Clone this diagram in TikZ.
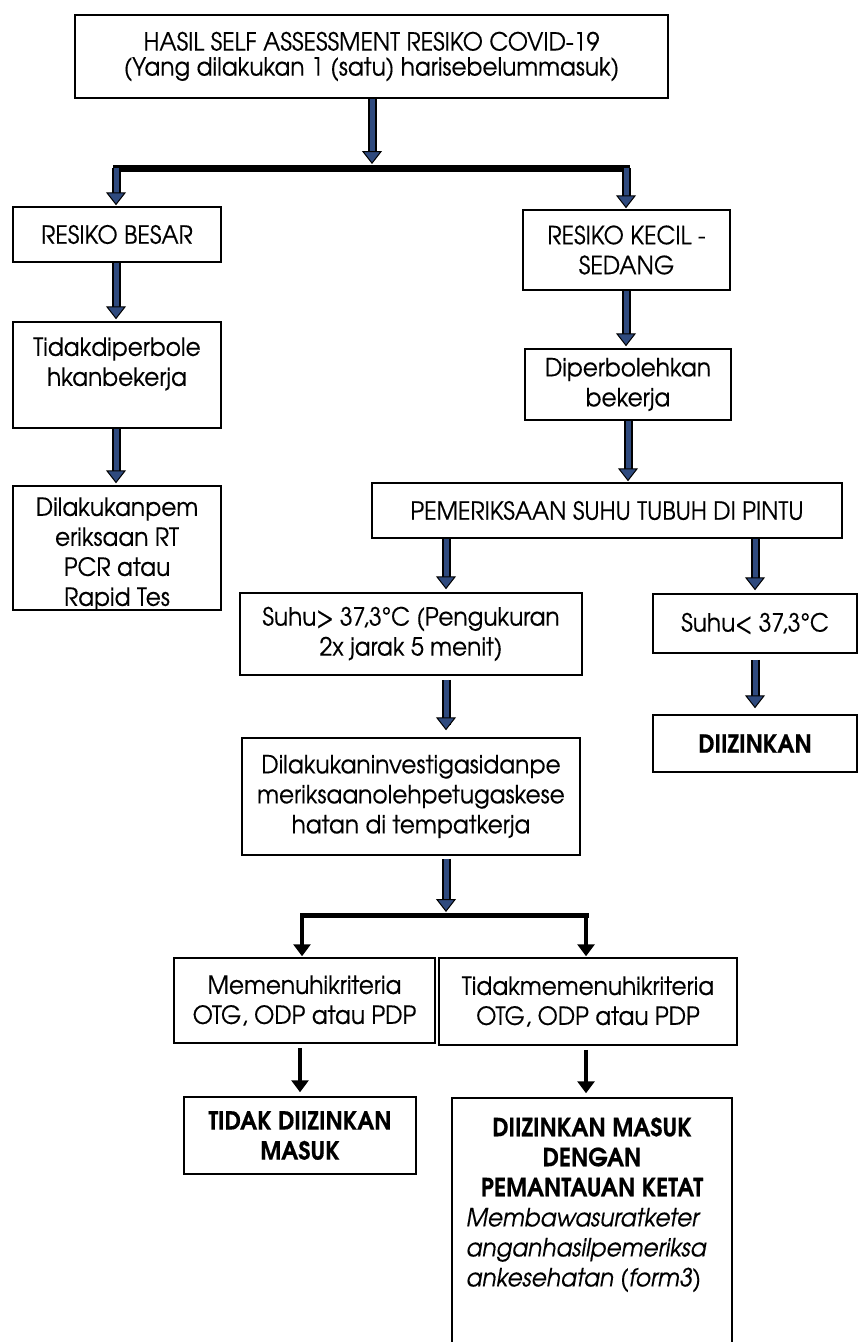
\documentclass[tikz,border=0pt]{standalone}
\usepackage{fontspec}
\setmainfont{TeX Gyre Adventor}[FakeStretch=0.93,FakeBold=0.4]
\usetikzlibrary{arrows.meta}
\definecolor{arrowblue}{HTML}{2F4A7E}
\newcommand\mainsz{\fontsize{25}{30}\selectfont}
\begin{document}
\begin{tikzpicture}[x=1pt,y=-1pt,
  box/.style={draw=black,line width=1.5pt,inner sep=0pt,align=center,font=\mainsz},
  txt/.style={inner sep=0pt,align=center,font=\mainsz},
  bluearrow/.style={draw=arrowblue,line width=5pt,
    -{Triangle[length=13pt,width=20pt,line width=1pt,color=black,fill=arrowblue]},
    preaction={draw=black,line width=9pt,-,shorten >=12pt}},
  blackarrow/.style={draw=black,line width=4pt,-{Triangle[length=12pt,width=17pt]}},
  barline/.style={draw=black,line cap=rect}]
\useasboundingbox (0,0) rectangle (858,1342);
\fill[white] (0,0) rectangle (858,1342);

% boxes
\node[box,minimum width=593pt,minimum height=83pt,font=\fontsize{25}{25}\selectfont] (top) at (371.5,56.5)
  {HASIL SELF ASSESSMENT RESIKO COVID-19\\(Yang dilakukan 1 (satu) harisebelummasuk)};
\node[box,minimum width=208pt,minimum height=55pt] (rb) at (117,234.5) {RESIKO BESAR};
\node[box,minimum width=207pt,minimum height=80pt] (rk) at (626.5,250) {RESIKO KECIL -\\SEDANG};
\node[box,minimum width=208pt,minimum height=106pt] (tdb) at (117,375) {};
\node[txt] (tdbt) at (117,364) {Tidakdiperbole\\hkanbekerja};
\node[box,minimum width=208pt,minimum height=124pt] (dp) at (117,548) {};
\node[txt] (dpt) at (117,554) {Dilakukanpem\\eriksaan RT\\PCR atau\\Rapid Tes};
\node[box,minimum width=206pt,minimum height=71pt] (dib) at (628,384.5) {Diperbolehkan\\bekerja};
\node[box,minimum width=470pt,minimum height=55pt] (pem) at (607,510.5) {PEMERIKSAAN SUHU TUBUH DI PINTU};
\node[box,minimum width=342pt,minimum height=82pt] (sg) at (411,634) {Suhu> 37,3°C (Pengukuran\\2x jarak 5 menit)};
\node[box,minimum width=204pt,minimum height=59pt] (sl) at (755,623.5) {Suhu< 37,3°C};
\node[box,minimum width=204pt,minimum height=57pt,font=\mainsz\bfseries] (dz) at (755,743.5) {DIIZINKAN};
\node[box,minimum width=338pt,minimum height=117pt] (inv) at (411,796.5)
  {Dilakukaninvestigasidanpe\\meriksaanolehpetugaskese\\hatan di tempatkerja};
\node[box,minimum width=261pt,minimum height=85pt] (mem) at (304.5,1000.5) {Memenuhikriteria\\OTG, ODP atau PDP};
\node[box,minimum width=298pt,minimum height=87pt] (tmem) at (588,1001.5) {Tidakmemenuhikriteria\\OTG, ODP atau PDP};
\node[box,minimum width=232pt,minimum height=77pt,font=\mainsz\bfseries] (tdm) at (300,1135.5) {TIDAK DIIZINKAN\\MASUK};
\node[box,minimum width=280pt,minimum height=256pt] (dzm) at (592,1226) {};
\node[txt,font=\mainsz\bfseries] (dzmb) at (592,1157) {DIIZINKAN MASUK\\DENGAN\\PEMANTAUAN KETAT};
\node[txt,font=\mainsz\itshape,align=left,anchor=west] (dzmi) at (466,1250)
  {Membawasuratketer\\anganhasilpemeriksa\\ankesehatan (form3)};

% junction coordinates
\coordinate (j1) at (372,164);
\coordinate (b1l) at (116,168);
\coordinate (b1r) at (626,168);
\coordinate (c1) at (446,0);
\coordinate (j2) at (446,912);
\coordinate (b2l) at (302,915);
\coordinate (b2r) at (586,915);

% bars
\draw[barline,line width=7pt] (b1l) -- (b1r);
\draw[barline,line width=5pt] (b2l) -- (b2r);

% connectors
\draw[bluearrow] (top.south -| j1) -- (j1);
\draw[bluearrow,shorten >=1pt] (b1l) -- (rb.north -| b1l);
\draw[bluearrow,shorten >=1pt] (b1r) -- (rk.north -| b1r);
\draw[bluearrow,shorten >=2pt] (rb.south -| b1l) -- (tdb.north -| b1l);
\draw[bluearrow,shorten >=2pt] (tdb.south -| b1l) -- (dp.north -| b1l);
\draw[bluearrow,shorten >=2pt] (rk.south -| b1r) -- (dib.north -| b1r);
\draw[bluearrow,shorten >=1pt] (dib.south) -- (pem.north -| dib.south);
\draw[bluearrow,shorten >=3pt] (pem.south -| c1) -- (sg.north -| c1);
\draw[bluearrow,shorten >=3pt] (pem.south -| sl.north) -- (sl.north);
\draw[bluearrow,shorten <=6pt,shorten >=6pt] (sl.south) -- (dz.north);
\draw[bluearrow,shorten <=4pt,shorten >=7pt] (sg.south -| c1) -- (inv.north -| c1);
\draw[bluearrow,shorten <=3pt] (inv.south -| c1) -- (j2);
\draw[blackarrow,shorten >=1pt] (b2l) -- (mem.north -| b2l);
\draw[blackarrow,shorten >=1pt] (b2r) -- (tmem.north -| b2r);
\draw[blackarrow,shorten <=4pt,shorten >=4pt] (mem.south -| tdm.north) -- (tdm.north);
\draw[blackarrow,shorten <=4pt,shorten >=4pt] (tmem.south -| b2r) -- (dzm.north -| b2r);
\end{tikzpicture}
\end{document}
